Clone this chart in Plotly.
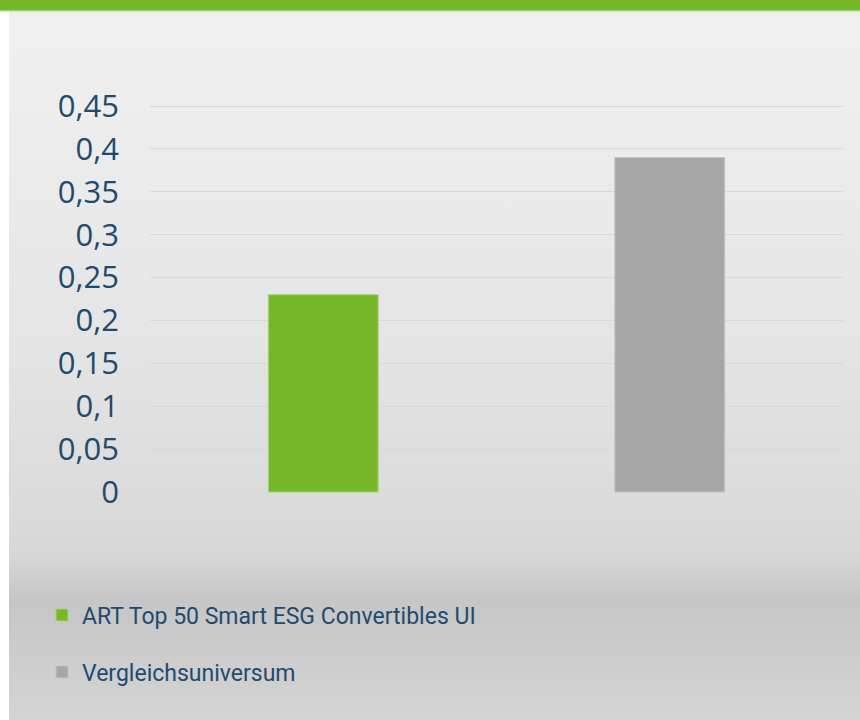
import base64
import plotly.graph_objects as go

# ---- data ----
categories = ["ART Top 50 Smart ESG Convertibles UI", "Vergleichsuniversum"]
values = [0.23, 0.39]
bar_colors = ["#77b82a", "#a6a6a6"]
edge_colors = ["#a9d47a", "#c4c4c4"]
tick_vals = [0, 0.05, 0.1, 0.15, 0.2, 0.25, 0.3, 0.35, 0.4, 0.45]
tick_text = ["0", "0,05", "0,1", "0,15", "0,2", "0,25", "0,3", "0,35", "0,4", "0,45"]

W, H = 860, 720
L, R, T, B = 150, 17, 102, 224
PX_PER_UNIT = (492 - 106) / 0.45
pad = 4 / PX_PER_UNIT
text_color = "#1f4b6e"

# background gradient as SVG
svg = f'''<svg xmlns="http://www.w3.org/2000/svg" width="{W}" height="{H}" viewBox="0 0 {W} {H}" preserveAspectRatio="none">
<defs><linearGradient id="g" x1="0" y1="0" x2="0" y2="1">
<stop offset="0" stop-color="#f0f0f0"/>
<stop offset="0.15" stop-color="#ededed"/>
<stop offset="0.45" stop-color="#e5e5e5"/>
<stop offset="0.72" stop-color="#dadada"/>
<stop offset="0.77" stop-color="#d6d6d6"/>
<stop offset="0.83" stop-color="#c6c6c6"/>
<stop offset="0.86" stop-color="#c8c8c8"/>
<stop offset="1" stop-color="#d4d4d4"/>
</linearGradient></defs>
<rect x="0" y="0" width="{W}" height="{H}" fill="#ffffff"/>
<rect x="9" y="11" width="{W-9}" height="{H-11}" fill="url(#g)"/>
<rect x="0" y="0" width="{W}" height="10" fill="#77b82a"/>
<rect x="0" y="10" width="{W}" height="1.5" fill="#a9d47a"/>
</svg>'''
src = "data:image/svg+xml;base64," + base64.b64encode(svg.encode()).decode()

pw = W - L - R
ph = H - T - B

fig = go.Figure()
legends = ["legend", "legend2"]
for i, (c, v) in enumerate(zip(categories, values)):
    fig.add_trace(go.Bar(
        x=[c], y=[v], name=c,
        marker=dict(color=bar_colors[i], line=dict(color=edge_colors[i], width=1)),
        width=0.317,
        legend=legends[i],
        hoverinfo="skip",
    ))

legend_common = dict(
    xref="container", yref="container",
    xanchor="left", yanchor="middle",
    bgcolor="rgba(0,0,0,0)",
    font=dict(family="Roboto", size=23, color=text_color),
    itemwidth=30,
    tracegroupgap=0,
)

fig.update_layout(
    width=W, height=H,
    margin=dict(l=L, r=R, t=T, b=B, autoexpand=False),
    paper_bgcolor="rgba(0,0,0,0)",
    plot_bgcolor="rgba(0,0,0,0)",
    barmode="overlay",
    showlegend=True,
    legend=dict(x=42 / W, y=1 - 615 / H, **legend_common),
    legend2=dict(x=42 / W, y=1 - 672 / H, **legend_common),
    xaxis=dict(showticklabels=False, showgrid=False, zeroline=False, showline=False,
               ticks="", automargin=False),
    yaxis=dict(range=[-pad, 0.45 + pad], tickvals=tick_vals, ticktext=tick_text,
               showgrid=True, gridcolor="#d8d8d8", gridwidth=1,
               zeroline=False, showline=False, ticks="", automargin=False,
               ticklabelstandoff=30,
               tickfont=dict(family="Open Sans", size=31, color=text_color)),
    images=[dict(
        source=src, xref="paper", yref="paper",
        x=-L / pw, y=1 + T / ph, sizex=W / pw, sizey=H / ph,
        xanchor="left", yanchor="top", sizing="stretch", layer="below",
    )],
)

fig.write_html("out.html", config={"displayModeBar": False},
               post_script="document.body.style.margin='0';")
